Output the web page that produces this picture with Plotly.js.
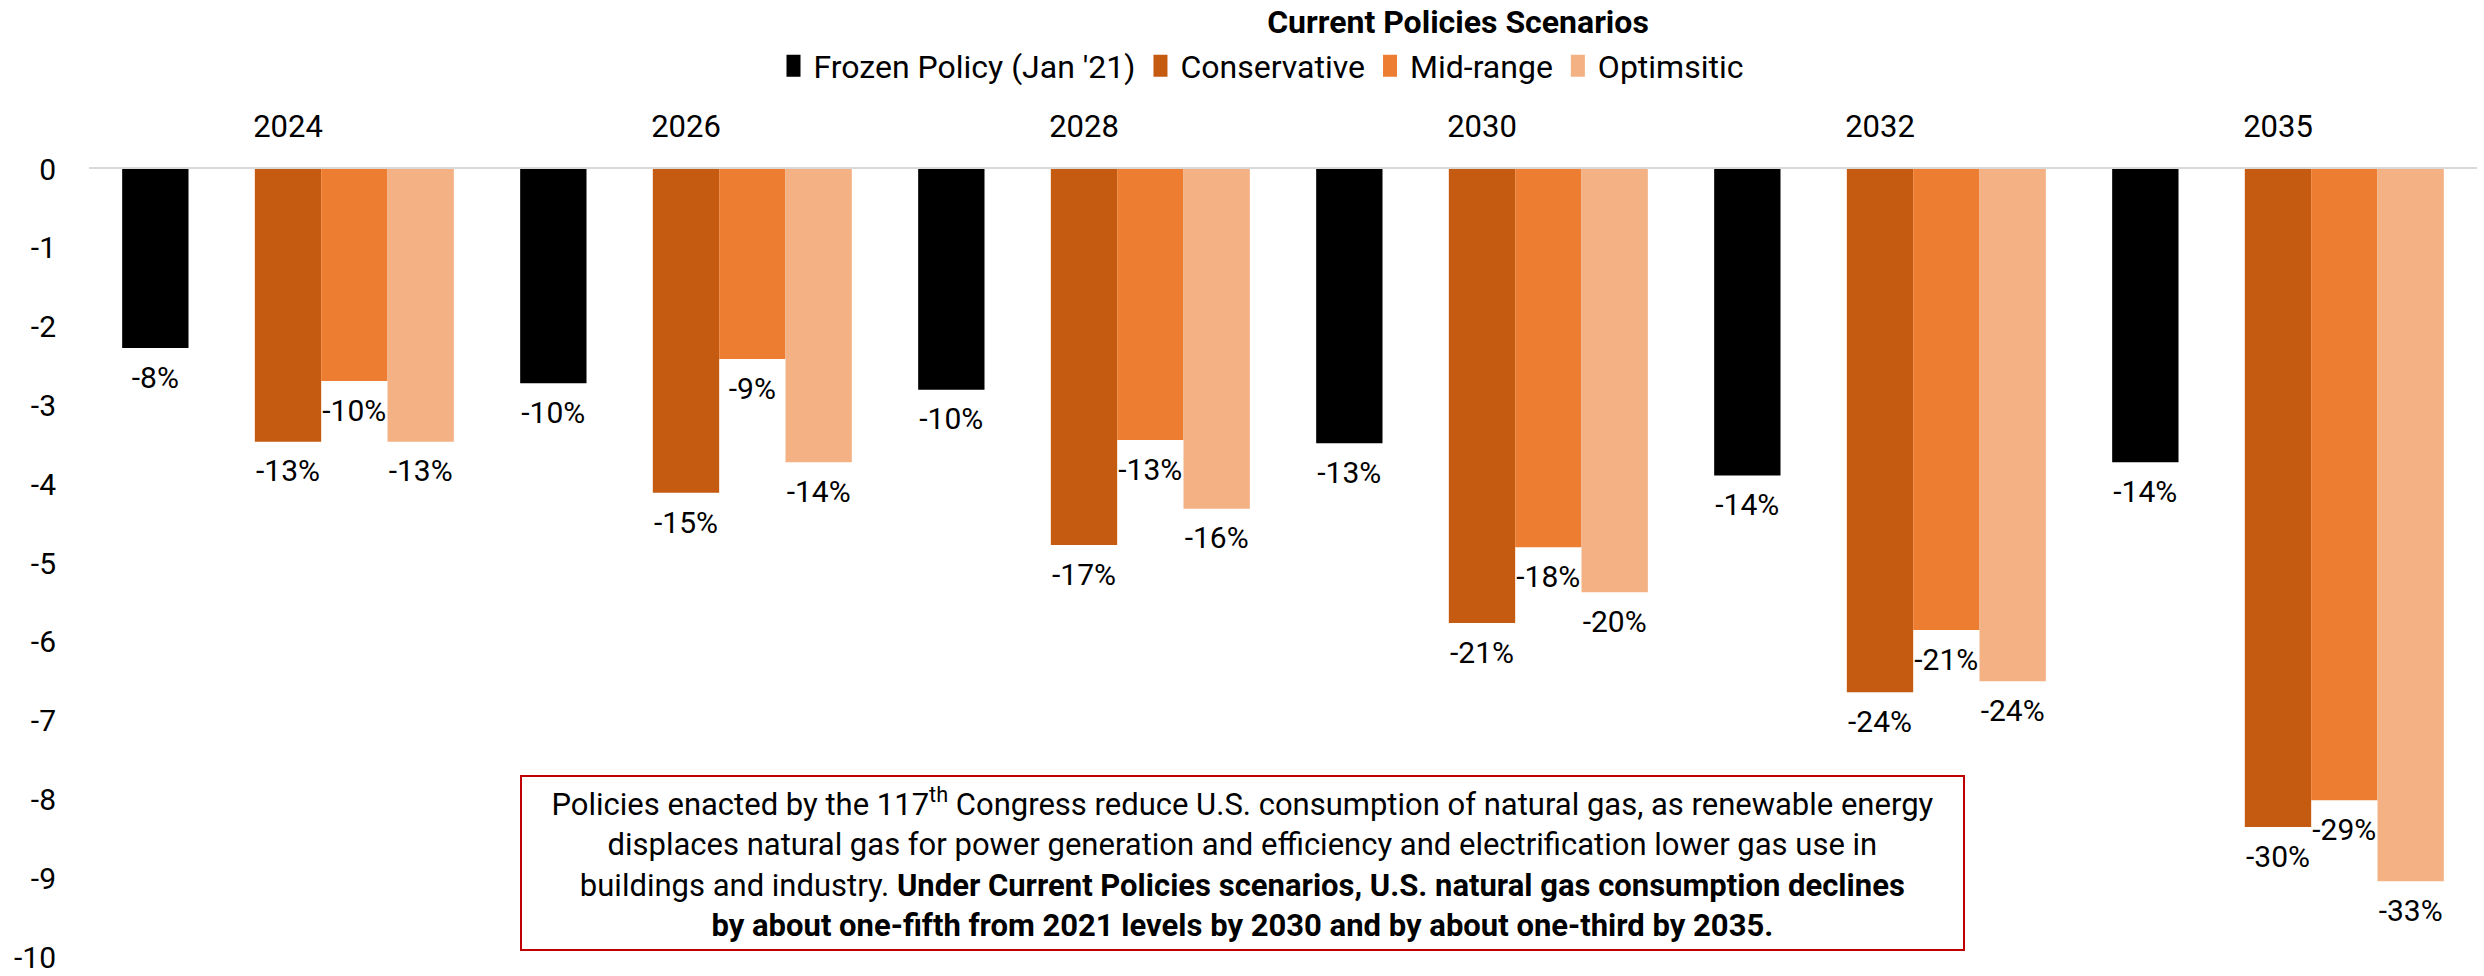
<!DOCTYPE html>
<html>
<head>
<meta charset="utf-8">
<script src="https://cdn.plot.ly/plotly-3.0.1.min.js"></script>
<style>
  html, body { margin: 0; padding: 0; background: #ffffff; }
  #chart { width: 2484px; height: 976px; }
</style>
</head>
<body>
<div id="chart"></div>
<script>
// ---- Data ----
const categories = ['2024', '2026', '2028', '2030', '2032', '2035'];

const frozenValues       = [-2.27, -2.72, -2.80, -3.48, -3.89, -3.72];
const conservativeValues = [-3.46, -4.11, -4.77, -5.76, -6.64, -8.35];
const midrangeValues     = [-2.69, -2.41, -3.44, -4.80, -5.85, -8.01];
const optimisticValues   = [-3.46, -3.72, -4.31, -5.37, -6.50, -9.04];

const frozenLabels       = ['-8%', '-10%', '-10%', '-13%', '-14%', '-14%'];
const conservativeLabels = ['-13%', '-15%', '-17%', '-21%', '-24%', '-30%'];
const midrangeLabels     = ['-10%', '-9%', '-13%', '-18%', '-21%', '-29%'];
const optimisticLabels   = ['-13%', '-14%', '-16%', '-20%', '-24%', '-33%'];

const seriesNames = ["Frozen Policy (Jan '21)", 'Conservative', 'Mid-range', 'Optimsitic'];

const yTickValues = [0, -1, -2, -3, -4, -5, -6, -7, -8, -9, -10];
const yTickLabels = ['0', '-1', '-2', '-3', '-4', '-5', '-6', '-7', '-8', '-9', '-10'];

// ---- Styling ----
const colors = ['#000000', '#C55A11', '#ED7D31', '#F4B183'];
const FONT = 'Roboto, "Noto Sans", Arial, sans-serif';
const slot = 1 / 6;                      // each category = 6 slots (one is a gap)
const slotIndex = [0, 2, 3, 4];          // frozen, (gap), conservative, mid, optimistic
const groupStart = -5 / 12;

const idx = categories.map((_, i) => i);
const values = [frozenValues, conservativeValues, midrangeValues, optimisticValues];
const labels = [frozenLabels, conservativeLabels, midrangeLabels, optimisticLabels];

const traces = [];
values.forEach((vals, s) => {
  const off = groupStart + slotIndex[s] * slot;
  traces.push({
    type: 'bar',
    name: seriesNames[s],
    x: idx,
    y: vals,
    width: slot,
    offset: off,
    marker: { color: colors[s], line: { width: 0 } },
    hoverinfo: 'skip'
  });
});
values.forEach((vals, s) => {
  const centre = groupStart + slotIndex[s] * slot + slot / 2;
  traces.push({
    type: 'scatter',
    mode: 'markers+text',
    x: idx.map(i => i + centre),
    y: vals,
    text: labels[s],
    textposition: 'bottom center',
    textfont: { family: FONT, size: 30, color: '#000000' },
    marker: { size: 26, color: 'rgba(0,0,0,0)' },
    showlegend: false,
    hoverinfo: 'skip',
    cliponaxis: false
  });
});

const layout = {
  width: 2484,
  height: 976,
  paper_bgcolor: '#ffffff',
  plot_bgcolor: '#ffffff',
  margin: { l: 89, r: 7, t: 169, b: 19 },
  barmode: 'overlay',
  font: { family: FONT, size: 30, color: '#000000' },
  title: {
    text: '<b>Current Policies Scenarios</b>',
    font: { family: FONT, size: 32, color: '#000000' },
    x: 1458 / 2484, xref: 'container', xanchor: 'center',
    y: 1 - 22 / 976, yref: 'container', yanchor: 'middle'
  },
  showlegend: true,
  legend: {
    orientation: 'h',
    x: (1261 - 89) / 2388, xanchor: 'center',
    y: 1 + (169 - 66) / 788, yanchor: 'middle',
    font: { family: FONT, size: 32, color: '#000000' },
    traceorder: 'normal',
    itemwidth: 30,
    bgcolor: 'rgba(0,0,0,0)'
  },
  xaxis: {
    side: 'top',
    range: [-0.5, categories.length - 0.5],
    tickmode: 'array',
    tickvals: idx,
    ticktext: categories,
    ticks: 'outside',
    ticklen: 18,
    tickcolor: 'rgba(0,0,0,0)',
    tickfont: { family: FONT, size: 31, color: '#000000' },
    showgrid: false,
    zeroline: false,
    showline: true,
    linecolor: '#D9D9D9',
    linewidth: 2,
    fixedrange: true
  },
  yaxis: {
    range: [-10, 0],
    tickmode: 'array',
    tickvals: yTickValues,
    ticktext: yTickLabels,
    ticks: 'outside',
    ticklen: 26,
    tickcolor: 'rgba(0,0,0,0)',
    tickfont: { family: FONT, size: 30, color: '#000000' },
    ticklabeloverflow: 'allow',
    showgrid: false,
    zeroline: false,
    showline: false,
    fixedrange: true
  },
  annotations: [{
    xref: 'paper', yref: 'paper',
    x: (1242 - 89) / 2388, y: (957 - 863) / 788,
    xanchor: 'center', yanchor: 'middle',
    showarrow: false,
    align: 'center',
    width: 1435,
    height: 166,
    borderpad: 3,
    bordercolor: '#C00000',
    borderwidth: 2,
    bgcolor: '#ffffff',
    font: { family: FONT, size: 31, color: '#000000' },
    text: 'Policies enacted by the 117<sup>th</sup> Congress reduce U.S. consumption of natural gas, as renewable energy<br>' +
          'displaces natural gas for power generation and efficiency and electrification lower gas use in<br>' +
          'buildings and industry. <b>Under Current Policies scenarios, U.S. natural gas consumption declines</b><br>' +
          '<b>by about one-fifth from 2021 levels by 2030 and by about one-third by 2035.</b>'
  }]
};

Plotly.newPlot('chart', traces, layout, { displayModeBar: false, staticPlot: true }).then(gd => {
  // Taller legend swatches, as in the reference
  gd.querySelectorAll('.legend .legendpoints path').forEach(p => {
    p.setAttribute('d', 'M7,11H-7V-11H7Z');
  });
});
</script>
</body>
</html>
